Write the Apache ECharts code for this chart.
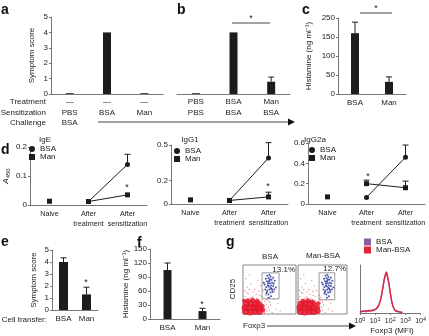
<!DOCTYPE html>
<html><head><meta charset="utf-8">
<script src="https://cdn.jsdelivr.net/npm/echarts@6/dist/echarts.min.js"></script>
<style>html,body{margin:0;padding:0;background:#fff}#c{width:429px;height:336px}</style>
</head><body><div id="c"></div>
<script>
// ---------- data ----------
const aTreat = ['—','—','—'];
const aSens  = ['PBS','BSA','Man'];
const aChal  = ['BSA','',''];
const aScore = [0.05, 4.0, 0.05];
const bTreat = ['PBS','BSA','Man'];
const bSens  = ['PBS','BSA','BSA'];
const bScore = [0.05, 4.0, 0.8];
const bErr   = [0, 0, 0.3];
const cCats  = ['BSA','Man'];
const cHist  = [160, 32];
const cErr   = [29, 13];
const cTickVals = [0, 50, 100, 150, 200];
const cTickText = ['0','50','100','150','250'];
const dCats  = ['Naive','After\ntreatment','After\nsensitization'];
const igeNaive = [0.013, null, null];
const igeBSA   = [null, 0.012, 0.14];
const igeMan   = [null, 0.012, 0.035];
const igeBSAErr = [0, 0, 0.035];
const igeManErr = [0, 0, 0];
const igg1Naive = [0.035, null, null];
const igg1BSA   = [null, 0.03, 0.39];
const igg1Man   = [null, 0.03, 0.06];
const igg1BSAErr = [0, 0, 0.13];
const igg1ManErr = [0, 0, 0.04];
const igg1Ticks  = [0, 0.2, 0.5];
const igg2aNaive = [0.07, null, null];
const igg2aBSA   = [null, 0.065, 0.46];
const igg2aMan   = [null, 0.2, 0.16];
const igg2aBSAErr = [0, 0, 0.12];
const igg2aManErr = [0, 0.035, 0.065];
const eCats  = ['BSA','Man'];
const eScore = [4.0, 1.3];
const eErr   = [0.35, 0.6];
const fCats  = ['BSA','Man'];
const fHist  = [105, 17];
const fErr   = [15, 6];
// flow plots: [Foxp3 %, CD25 %, dot size]
const bsaRedBlob = [[5,5,7],[14,4,7],[23,5,7],[31,5,7],[37,8,5],[4,13,7],[13,13,7],[22,13,7],[30,12,7],[36,16,5],[6,21,7],[15,21,7],[24,20,7],[31,20,6],[9,27,5],[18,28,5],[27,26,5],[2,27,4]];
const manRedBlob = [[5,5,7],[14,4,7],[23,5,7],[32,5,7],[40,6,6],[4,13,7],[13,13,7],[22,12,7],[31,12,7],[40,14,5],[6,20,7],[15,21,7],[24,20,7],[33,20,6],[10,26,5],[20,27,5],[29,25,5],[42,22,4]];
const redScatter = [[40,4],[42,10],[45,6],[48,14],[44,20],[41,26],[47,28],[50,8],[52,18],[39,16],[46,34],[43,38],[50,24],[4,36],[10,42],[18,35],[25,40],[30,46],[8,55],[15,62],[22,50],[33,58],[28,68],[5,72],[12,80],[35,36],[38,48],[3,48],[26,32],[62,10],[70,6],[66,22],[58,30],[60,45],[2,30],[36,28],[40,2],[20,32],[14,33],[55,3],[44,30],[7,44],[19,45],[31,38],[12,50]];
const bsaBlue = [[48,40],[52,44],[46,48],[50,50],[54,52],[44,55],[49,56],[53,58],[57,57],[47,62],[51,63],[55,64],[45,67],[50,68],[54,70],[48,73],[52,76],[56,45],[42,50],[58,62],[50,80],[46,78],[60,68],[44,42],[53,36],[49,33],[41,60],[57,74],[62,54],[39,64],[47,58],[52,53],[55,49],[51,71],[45,45],[59,50],[48,66],[43,72]];
const manBlue = [[58,40],[62,44],[56,48],[60,50],[64,52],[54,55],[59,56],[63,58],[67,57],[57,62],[61,63],[65,64],[55,67],[60,68],[64,70],[58,73],[62,76],[66,45],[52,50],[68,62],[60,80],[56,78],[70,68],[54,42],[63,36],[59,33],[51,60],[67,74],[72,54],[49,64],[57,58],[62,53],[65,49],[61,71],[55,45],[69,50],[58,66],[53,72]];
const bsaGate = [[36,31],[68,84]];
const manGate = [[43,29],[75,84]];
const histX   = [0.0,0.2,0.4,0.6,0.8,1.0,1.1,1.2,1.3,1.4,1.5,1.6,1.7,1.75,1.8,1.9,2.0,2.1,2.2,2.3,2.4,2.6,2.8];
const histBSA = [3,5,3,7,5,9,11,15,24,38,58,80,94,98,90,72,48,27,14,8,5,3,2];
const histMan = [2,4,6,4,7,8,12,17,26,40,60,83,97,100,93,75,50,28,15,7,4,3,1];

// ---------- style ----------
const FONT = '"Liberation Sans", Arial, Helvetica, sans-serif';
const AX = '#777';
const TXT = '#222';
const BAR = '#1c1c1c';
const FS = 8;

function catAxis(gi, data, extra) {
  return Object.assign({
    type: 'category', gridIndex: gi, data: data,
    axisLine: {lineStyle: {color: AX, width: 1}},
    axisTick: {length: 2, lineStyle: {color: AX}},
    axisLabel: {color: TXT, fontSize: FS, fontFamily: FONT, margin: 4, interval: 0, lineHeight: 10.5}
  }, extra || {});
}
function valAxis(gi, max, interval, extra) {
  return Object.assign({
    type: 'value', gridIndex: gi, min: 0, max: max, interval: interval,
    splitLine: {show: false},
    axisLine: {show: true, lineStyle: {color: AX, width: 1}},
    axisTick: {show: true, length: 2, lineStyle: {color: AX}},
    axisLabel: {color: TXT, fontSize: FS, fontFamily: FONT, margin: 3},
    nameLocation: 'middle',
    nameTextStyle: {color: TXT, fontSize: FS, fontFamily: FONT}
  }, extra || {});
}
function bars(i, data, w) {
  return {type: 'bar', xAxisIndex: i, yAxisIndex: i, data: data, barWidth: w || 8,
    itemStyle: {color: BAR}, silent: true};
}
function errs(i, vals, es) {
  const d = [];
  vals.forEach((v, k) => { if (v != null && es[k] > 0) d.push([k, v, v + es[k]]); });
  return {type: 'custom', xAxisIndex: i, yAxisIndex: i, silent: true, z: 5, data: d,
    encode: {x: 0, y: [1, 2]},
    renderItem(p, api) {
      const x = api.value(0);
      const lo = api.coord([x, api.value(1)]);
      const hi = api.coord([x, api.value(2)]);
      return {type: 'group', children: [
        {type: 'line', shape: {x1: lo[0], y1: lo[1], x2: hi[0], y2: hi[1]}, style: {stroke: BAR, lineWidth: 1}},
        {type: 'line', shape: {x1: hi[0] - 3, y1: hi[1], x2: hi[0] + 3, y2: hi[1]}, style: {stroke: BAR, lineWidth: 1}}
      ]};
    }};
}
function lineS(i, name, data, sym) {
  return {type: 'line', name: name, xAxisIndex: i, yAxisIndex: i, data: data,
    symbol: sym, symbolSize: 5, showSymbol: true, connectNulls: false,
    lineStyle: {color: BAR, width: 1}, itemStyle: {color: BAR}, silent: true, z: 4};
}
function flowScatter(i, blob, scat, blue, gate) {
  return [
    {type: 'scatter', xAxisIndex: i, yAxisIndex: i, data: blob, symbolSize: d => d[2],
      itemStyle: {color: '#e3182d', opacity: 0.85}, silent: true,
      markArea: {silent: true, itemStyle: {color: 'rgba(0,0,0,0)', borderColor: '#999', borderWidth: 1},
        data: [[{coord: gate[0]}, {coord: gate[1]}]]}},
    {type: 'scatter', xAxisIndex: i, yAxisIndex: i, data: scat, symbolSize: 1.3,
      itemStyle: {color: '#e3182d', opacity: 0.55}, silent: true},
    {type: 'scatter', xAxisIndex: i, yAxisIndex: i, data: blue, symbolSize: 2,
      itemStyle: {color: '#2b3a9c', opacity: 0.85}, silent: true, z: 3}
  ];
}
const hiddenAx = (gi) => ({type: 'value', gridIndex: gi, min: 0, max: 100, show: false});

const grids = [
  {left: 51, top: 17, width: 112, height: 77},   // 0 a
  {left: 177, top: 17, width: 113, height: 77},  // 1 b
  {left: 338, top: 18, width: 68, height: 76},   // 2 c
  {left: 30, top: 147, width: 117, height: 58},  // 3 IgE
  {left: 171, top: 145, width: 117, height: 59}, // 4 IgG1
  {left: 308, top: 143, width: 117, height: 61}, // 5 IgG2a
  {left: 52, top: 250, width: 46, height: 60},   // 6 e
  {left: 150, top: 249, width: 70, height: 70},  // 7 f
  {left: 243, top: 265, width: 53, height: 49, show: true, borderColor: '#888', borderWidth: 1}, // 8
  {left: 298, top: 265, width: 49, height: 49, show: true, borderColor: '#888', borderWidth: 1}, // 9
  {left: 360, top: 265, width: 64, height: 48}   // 10 hist
].map(g => Object.assign({containLabel: false}, g));

const dLab = {color: TXT, fontSize: 7.2, fontFamily: FONT, margin: 4, interval: 0, lineHeight: 10};
const xAxes = [
  catAxis(0, aSens, {axisLabel: {color: TXT, fontSize: FS, fontFamily: FONT, margin: 3, interval: 0, lineHeight: 10.5,
    formatter: (v, i) => aTreat[i] + '\n' + aSens[i] + '\n' + (aChal[i] || ' ')}}),
  catAxis(1, bTreat, {axisLabel: {color: TXT, fontSize: FS, fontFamily: FONT, margin: 3, interval: 0, lineHeight: 10.5,
    formatter: (v, i) => bTreat[i] + '\n' + bSens[i]}}),
  catAxis(2, cCats),
  catAxis(3, dCats, {axisTick: {alignWithLabel: true, length: 2, lineStyle: {color: AX}}, axisLabel: dLab}),
  catAxis(4, dCats, {axisTick: {alignWithLabel: true, length: 2, lineStyle: {color: AX}}, axisLabel: dLab}),
  catAxis(5, dCats, {axisTick: {alignWithLabel: true, length: 2, lineStyle: {color: AX}}, axisLabel: dLab}),
  catAxis(6, eCats, {axisLabel: {color: TXT, fontSize: FS, fontFamily: FONT, margin: 5, interval: 0}}),
  catAxis(7, fCats, {axisLabel: {color: TXT, fontSize: FS, fontFamily: FONT, margin: 5, interval: 0}}),
  hiddenAx(8), hiddenAx(9),
  {type: 'value', gridIndex: 10, min: 0, max: 4, interval: 1, splitLine: {show: false},
    axisLine: {lineStyle: {color: AX}}, axisTick: {length: 2, lineStyle: {color: AX}},
    axisLabel: {color: TXT, fontSize: 7, fontFamily: FONT, margin: 3,
      formatter: v => '10{s|' + v + '}',
      rich: {s: {fontSize: 5.5, fontFamily: FONT, color: TXT, padding: [0, 0, 5, 0]}}}}
];
const yAxes = [
  valAxis(0, 5, 1, {name: 'Symptom score', nameGap: 15}),
  valAxis(1, 5, 1, {show: false}),
  valAxis(2, 200, 50, {name: 'Histamine (ng ml\u207B\u00B9)', nameGap: 25,
    axisLabel: {color: TXT, fontSize: FS, fontFamily: FONT, margin: 3,
      formatter: v => cTickText[cTickVals.indexOf(v)]}}),
  valAxis(3, 0.2, 0.1, {name: '{i|A}{s|450}', nameGap: 19,
    nameTextStyle: {rich: {i: {fontStyle: 'italic', fontSize: 8, fontFamily: FONT, color: TXT},
      s: {fontSize: 6, fontFamily: FONT, color: TXT, padding: [4, 0, 0, 0]}}}}),
  valAxis(4, 0.5, 0.1, {axisLabel: {color: TXT, fontSize: FS, fontFamily: FONT, margin: 3, customValues: igg1Ticks},
    axisTick: {show: true, length: 2, lineStyle: {color: AX}, customValues: igg1Ticks}}),
  valAxis(5, 0.6, 0.2),
  valAxis(6, 5, 1, {name: 'Symptom score', nameGap: 14}),
  valAxis(7, 150, 30, {name: 'Histamine (ng ml\u207B\u00B9)', nameGap: 19}),
  hiddenAx(8), hiddenAx(9),
  {type: 'value', gridIndex: 10, min: 0, max: 117, splitLine: {show: false},
    axisLine: {show: true, lineStyle: {color: AX}}, axisTick: {show: false}, axisLabel: {show: false}}
];

const series = [
  bars(0, aScore),
  bars(1, bScore), errs(1, bScore, bErr),
  bars(2, cHist), errs(2, cHist, cErr),
  lineS(3, 'BSA', igeBSA, 'circle'), lineS(3, 'Man', igeMan, 'rect'), lineS(3, 'Naive', igeNaive, 'rect'),
  errs(3, igeBSA, igeBSAErr), errs(3, igeMan, igeManErr),
  lineS(4, 'BSA', igg1BSA, 'circle'), lineS(4, 'Man', igg1Man, 'rect'), lineS(4, 'Naive', igg1Naive, 'rect'),
  errs(4, igg1BSA, igg1BSAErr), errs(4, igg1Man, igg1ManErr),
  lineS(5, 'BSA', igg2aBSA, 'circle'), lineS(5, 'Man', igg2aMan, 'rect'), lineS(5, 'Naive', igg2aNaive, 'rect'),
  errs(5, igg2aBSA, igg2aBSAErr), errs(5, igg2aMan, igg2aManErr),
  bars(6, eScore, 9), errs(6, eScore, eErr),
  bars(7, fHist), errs(7, fHist, fErr),
  ...flowScatter(8, bsaRedBlob, redScatter, bsaBlue, bsaGate),
  ...flowScatter(9, manRedBlob, redScatter, manBlue, manGate),
  {type: 'line', name: 'g-BSA', xAxisIndex: 10, yAxisIndex: 10, data: histX.map((x, k) => [x, histBSA[k]]),
    smooth: 0.3, showSymbol: false, lineStyle: {color: '#8e5c9e', width: 1.3}, itemStyle: {color: '#8e5c9e'}, silent: true},
  {type: 'line', name: 'g-Man-BSA', xAxisIndex: 10, yAxisIndex: 10, data: histX.map((x, k) => [x, histMan[k]]),
    smooth: 0.3, showSymbol: false, lineStyle: {color: '#e0243a', width: 1.3}, itemStyle: {color: '#e0243a'}, silent: true}
];

const legTxt = {color: TXT, fontSize: FS, fontFamily: FONT};
const dLeg = (l, t) => ({left: l, top: t, orient: 'vertical', padding: 0, itemGap: 0, itemWidth: 6, itemHeight: 6,
  selectedMode: false, textStyle: legTxt,
  data: [{name: 'BSA', icon: 'circle'}, {name: 'Man', icon: 'rect'}]});
const legend = [
  dLeg(29, 145), dLeg(174, 147), dLeg(309, 146),
  {left: 364, top: 238, orient: 'vertical', padding: 0, itemGap: 0, itemWidth: 7, itemHeight: 7,
    selectedMode: false, textStyle: legTxt, icon: 'rect',
    data: ['g-BSA', 'g-Man-BSA'], formatter: n => n.slice(2)}
];

// ---------- annotations ----------
const T = (text, x, y, o) => Object.assign({type: 'text', x: x, y: y, silent: true,
  style: Object.assign({text: text, fill: TXT, font: FS + 'px ' + FONT, align: 'center', verticalAlign: 'middle'}, (o && o.style) || {})},
  o && o.rotation ? {rotation: o.rotation} : {});
const S = (x, y) => T('*', x, y, {style: {font: '9px ' + FONT}});
const L = (x1, y1, x2, y2) => ({type: 'line', silent: true, shape: {x1, y1, x2, y2}, style: {stroke: '#444', lineWidth: 1}});
const P = (text, x, y) => T(text, x, y, {style: {font: 'bold 14px ' + FONT, fill: '#111', align: 'left'}});
const graphic = [
  P('a', 1, 10), P('b', 177, 10), P('c', 302, 10), P('d', 1, 150), P('e', 1, 242), P('f', 137, 243), P('g', 226, 242),
  T('Treatment', 46, 102, {style: {align: 'right'}}),
  T('Sensitization', 46, 112.5, {style: {align: 'right'}}),
  T('Challenge', 46, 123, {style: {align: 'right'}}),
  L(98, 122, 290, 122),
  {type: 'polygon', silent: true, shape: {points: [[288, 118.5], [295, 122], [288, 125.5]]}, style: {fill: '#111'}},
  L(232, 23, 270, 23), S(251, 19),
  L(360, 13, 392, 13), S(376, 9),
  T('IgE', 45, 140), T('IgG1', 190, 140), T('IgG2a', 315, 140),
  S(127, 188), S(268, 187), S(368, 177),
  T('Cell transfer:', 47, 320, {style: {align: 'right'}}),
  S(86, 283), S(202, 305),
  T('BSA', 270, 257), T('Man-BSA', 323, 256),
  T('13.1%', 295, 270, {style: {align: 'right'}}), T('12.7%', 346, 269, {style: {align: 'right'}}),
  T('CD25', 233, 289, {rotation: Math.PI / 2}),
  T('Foxp3', 243, 326, {style: {align: 'left'}}),
  L(267, 326, 350, 326),
  {type: 'polygon', silent: true, shape: {points: [[349, 322.5], [356, 326], [349, 329.5]]}, style: {fill: '#111'}},
  T('Foxp3 (MFI)', 392, 331)
];

const chart = echarts.init(document.getElementById('c'), null, {renderer: 'canvas'});
chart.setOption({
  animation: false, backgroundColor: '#fff',
  textStyle: {fontFamily: FONT},
  grid: grids, xAxis: xAxes, yAxis: yAxes, series: series, legend: legend, graphic: graphic
});
</script>
</body></html>
